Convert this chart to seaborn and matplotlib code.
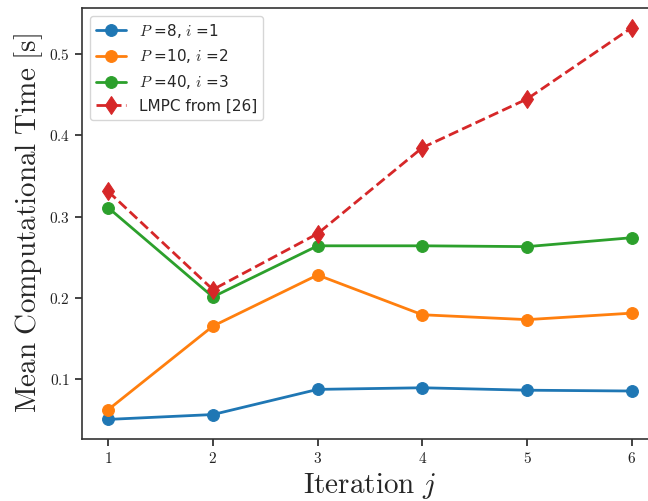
import matplotlib
matplotlib.use("Agg")
import matplotlib.pyplot as plt
import seaborn as sns
import pandas as pd
from matplotlib.ticker import FuncFormatter

iterations = [1, 2, 3, 4, 5, 6]
time_p8 = [0.050, 0.056, 0.087, 0.089, 0.086, 0.085]
time_p10 = [0.062, 0.165, 0.228, 0.179, 0.173, 0.181]
time_p40 = [0.311, 0.201, 0.264, 0.264, 0.263, 0.274]
time_lmpc = [0.331, 0.210, 0.279, 0.385, 0.445, 0.533]

labels = [r"$P$ =8, $i$ =1", r"$P$ =10, $i$ =2", r"$P$ =40, $i$ =3", "LMPC from [26]"]
series = [time_p8, time_p10, time_p40, time_lmpc]
colors = ["#1f77b4", "#ff7f0e", "#2ca02c", "#d62728"]

sns.set_style("ticks")
plt.rcParams["mathtext.fontset"] = "cm"
plt.rcParams["font.family"] = ["DejaVu Sans"]

fig = plt.figure(figsize=(6.48, 5.01), dpi=100)
ax = fig.add_axes([82 / 648, (501 - 439) / 501, (658 - 82) / 648, (439 - 8) / 501])

for lab, vals, col in zip(labels, series, colors):
    df = pd.DataFrame({"iteration": iterations, "time": vals})
    if lab.startswith("LMPC"):
        sns.lineplot(data=df, x="iteration", y="time", ax=ax, color=col, label=lab,
                     marker="d", markersize=9.5, linewidth=2, linestyle="--",
                     markeredgecolor=col)
    else:
        sns.lineplot(data=df, x="iteration", y="time", ax=ax, color=col, label=lab,
                     marker="o", markersize=8.5, linewidth=2, markeredgecolor=col)

ax.set_xticks(iterations)
ax.set_yticks([0.1, 0.2, 0.3, 0.4, 0.5])
ax.xaxis.set_major_formatter(FuncFormatter(lambda v, p: r"$%d$" % v))
ax.yaxis.set_major_formatter(FuncFormatter(lambda v, p: r"$%.1f$" % v))
ax.tick_params(labelsize=11, length=5, width=1.2, colors="#222222")
for s in ax.spines.values():
    s.set_color("#333333")
    s.set_linewidth(1.2)

ax.set_xlabel(r"$\mathrm{Iteration}\ j$", fontsize=21, labelpad=4)
ax.set_ylabel(r"$\mathrm{Mean\ Computational\ Time\ [s]}$", fontsize=21, labelpad=3)

ax.legend(loc="upper left", fontsize=11, frameon=True)

fig.savefig("out.png", dpi=100)
